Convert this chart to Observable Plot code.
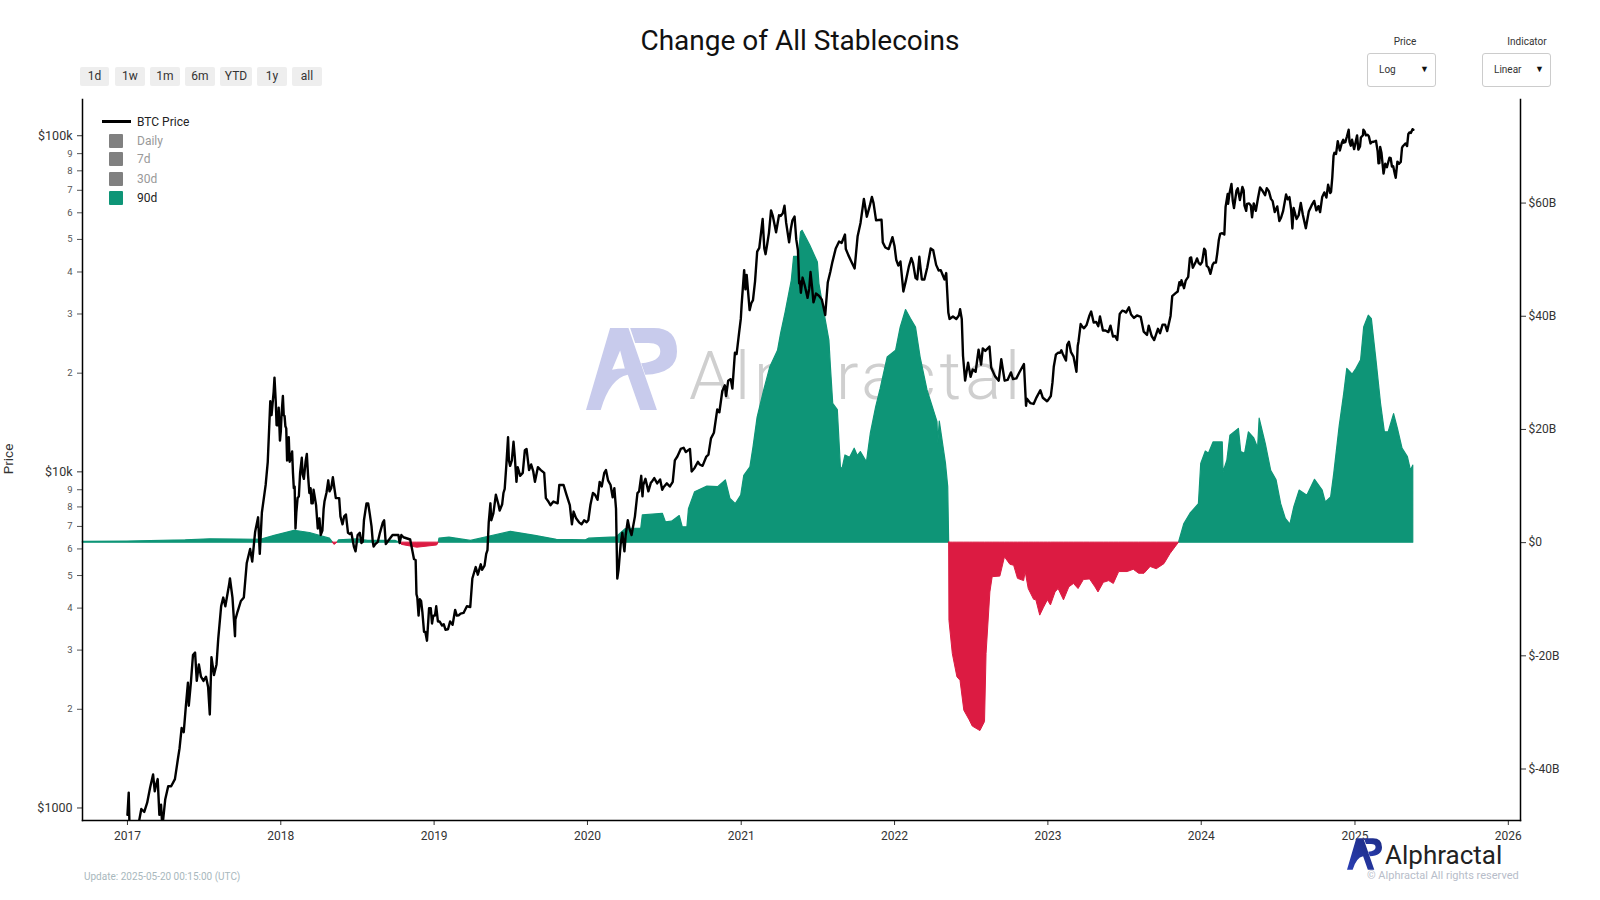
<!DOCTYPE html>
<html>
<head>
<meta charset="utf-8">
<script src="https://cdn.jsdelivr.net/npm/d3@7"></script>
<script src="https://cdn.jsdelivr.net/npm/@observablehq/plot@0.6"></script>
<style>
html,body{margin:0;padding:0;background:#fff;width:1600px;height:900px;overflow:hidden;font-family:Roboto,sans-serif}
#page{position:relative;width:1600px;height:900px}
#page>*{position:absolute}
.layer{left:0;top:0}
.layer svg{display:block;background:transparent}
.title{left:0;width:1600px;top:22px;text-align:center;font-size:28px;color:#111;line-height:37px}
.btn{top:67px;height:19px;line-height:19px;background:#eee;border-radius:2px;text-align:center;font-size:12px;color:#333}
.lab{font-size:10px;color:#333;text-align:center;top:36px;line-height:12px}
.sel{top:53px;width:67px;height:32px;border:1px solid #ccc;border-radius:3px;font-size:10px;color:#333;line-height:31px;text-indent:11px}
.sel i{position:absolute;right:6px;top:0;font-style:normal;font-size:9px;text-indent:0;color:#111}
.lg{left:137px;font-size:12px;line-height:14px;color:#999}
.sw{left:109px;width:14px;height:14px;background:#808080;border-radius:1px}
.wm{left:689px;top:338px;font-size:67px;font-weight:300;color:#cfcfcf;line-height:76px;letter-spacing:4px}
</style>
</head>
<body>
<div id="page">
  <svg style="left:586px;top:328px" width="91" height="82" viewBox="18 25 272 245"><path fill="#c8cbec" fill-rule="evenodd" d="M18 270 L90 25 L145 25 L230 270 L180 270 L143 165 Q90 175 62 270 Z M96 150 L120 92 L134 146 Q112 146 96 150 Z"/><path fill="#c8cbec" d="M150 25 L220 25 Q290 25 290 95 Q290 160 195 165 L183 130 Q240 125 240 95 Q240 70 205 70 L165 70 Z"/></svg>
  <div class="wm">Alphractal</div>
  <div class="layer" id="indLayer"></div>
  <div class="layer" id="btcLayer"></div>
  <div class="title">Change of All Stablecoins</div>
  <div class="btn" style="left:80px;width:29px">1d</div>
  <div class="btn" style="left:115px;width:30px">1w</div>
  <div class="btn" style="left:150px;width:30px">1m</div>
  <div class="btn" style="left:185px;width:30px">6m</div>
  <div class="btn" style="left:220px;width:32px">YTD</div>
  <div class="btn" style="left:257px;width:30px">1y</div>
  <div class="btn" style="left:292px;width:30px">all</div>
  <div class="lab" style="left:1375px;width:60px">Price</div>
  <div class="sel" style="left:1367px">Log<i>▼</i></div>
  <div class="lab" style="left:1497px;width:60px">Indicator</div>
  <div class="sel" style="left:1482px">Linear<i>▼</i></div>
  <div style="left:102px;top:120px;width:29px;height:2.5px;background:#000"></div>
  <div class="lg" style="top:115px;color:#222">BTC Price</div>
  <div class="sw" style="top:134px"></div><div class="lg" style="top:134px">Daily</div>
  <div class="sw" style="top:152px"></div><div class="lg" style="top:152px">7d</div>
  <div class="sw" style="top:172px"></div><div class="lg" style="top:172px">30d</div>
  <div class="sw" style="top:191px;background:#0e9577"></div><div class="lg" style="top:191px;color:#222">90d</div>
  <div style="left:-12px;top:451px;width:40px;text-align:center;font-size:13.5px;color:#333;transform:rotate(-90deg)">Price</div>
  <div style="left:84px;top:871px;font-size:10px;color:#a8b8bd">Update: 2025-05-20 00:15:00 (UTC)</div>
  <svg style="left:1347px;top:838px" width="35" height="32" viewBox="18 25 272 245"><defs><linearGradient id="lg1" x1="0" y1="1" x2="1" y2="0"><stop offset="0" stop-color="#2b3fb5"/><stop offset="1" stop-color="#1b2a80"/></linearGradient></defs><path fill="url(#lg1)" d="M18 270 L90 25 L145 25 L230 270 L180 270 L143 165 Q90 175 62 270 Z"/><path fill="url(#lg1)" d="M150 25 L220 25 Q290 25 290 95 Q290 160 195 165 L183 130 Q240 125 240 95 Q240 70 205 70 L165 70 Z"/></svg>
  <div style="left:1385px;top:840px;font-size:26px;line-height:30px;color:#222">Alphractal</div>
  <div style="left:1367px;top:869px;font-size:11px;line-height:14px;color:#b7bdc9">© Alphractal All rights reserved</div>
</div>
<script>
// BTC price (USD) by date
const btc2017 = [["01-01",970],["01-04",1130],["01-06",890],["01-12",810],["01-20",890],["01-28",920],["02-03",1010],["02-10",990],["02-17",1055],["02-24",1170],["03-03",1280],["03-07",1140],["03-10",1190],["03-14",1240],["03-18",970],["03-22",1040],["03-25",890],["04-01",1080],["04-08",1180],["04-15",1180],["04-24",1240],["05-01",1420],["05-05",1530],["05-10",1760],["05-15",1710],["05-20",2040],["05-25",2400],["05-27",2050],["06-01",2400],["06-06",2900],["06-11",2950],["06-15",2430],["06-20",2720],["06-25",2500],["07-01",2430],["07-07",2500],["07-12",2330],["07-16",1930],["07-20",2860],["07-26",2530],["08-01",2720],["08-05",3230],["08-12",4050],["08-17",4300],["08-22",4050],["08-31",4700],["09-02",4900],["09-08",4300],["09-14",3300],["09-15",3700],["09-20",3900],["09-28",4200],["10-05",4300],["10-12",5450],["10-20",6000],["10-25",5500],["11-01",6750],["11-08",7450],["11-12",5800],["11-17",7700],["11-26",9300],["12-01",10900],["12-07",16500],["12-10",15000],["12-15",17600],["12-17",19400],["12-20",16500],["12-22",14000],["12-25",14000],["12-27",15800],["12-30",12600]];
const btc2018 = [["01-01",13400],["01-03",15200],["01-06",17100],["01-08",15000],["01-10",14900],["01-12",13900],["01-14",13700],["01-16",11000],["01-18",11200],["01-20",12900],["01-22",10900],["01-25",11200],["01-28",11700],["01-30",10100],["02-01",9100],["02-03",9200],["02-05",6900],["02-07",7700],["02-10",8500],["02-13",8600],["02-16",10100],["02-20",11200],["02-22",10000],["02-25",9700],["03-01",10900],["03-04",11500],["03-07",9900],["03-10",8800],["03-13",9100],["03-15",8200],["03-18",8200],["03-20",9000],["03-22",8700],["03-26",8100],["03-30",6900],["04-03",7400],["04-06",6600],["04-10",6800],["04-13",7900],["04-15",8300],["04-20",8850],["04-24",9600],["04-27",8900],["05-01",9100],["05-05",9800],["05-08",9200],["05-12",8500],["05-15",8500],["05-20",8500],["05-23",7500],["05-28",7100],["06-01",7500],["06-05",7600],["06-10",6700],["06-14",6650],["06-18",6700],["06-24",6100],["06-28",5900],["07-03",6600],["07-08",6700],["07-12",6250],["07-15",6300],["07-18",7300],["07-24",8200],["07-28",8200],["08-01",7600],["08-05",7000],["08-08",6300],["08-10",6100],["08-14",6200],["08-20",6300],["08-25",6700],["09-01",7200],["09-04",7300],["09-08",6200],["09-12",6300],["09-20",6500],["09-24",6600],["10-01",6600],["10-08",6600],["10-11",6250],["10-15",6600],["10-20",6500],["11-05",6400],["11-14",5600],["11-18",5560],["11-20",4400],["11-22",4300],["11-25",3800],["11-28",4250],["12-01",4200],["12-04",3900],["12-08",3400],["12-11",3400],["12-15",3200],["12-18",3650],["12-20",4000],["12-24",4000],["12-27",3600],["12-30",3800]];
const btc2019 = [["01-03",3800],["01-06",4050],["01-10",3650],["01-14",3650],["01-20",3550],["01-24",3580],["01-28",3450],["02-03",3460],["02-08",3650],["02-14",3570],["02-20",3950],["02-24",3800],["03-01",3810],["03-05",3850],["03-12",3870],["03-20",4050],["03-28",4030],["04-02",4900],["04-10",5300],["04-15",5030],["04-22",5400],["04-25",5200],["05-01",5350],["05-05",5800],["05-08",5950],["05-11",7200],["05-15",8200],["05-17",7300],["05-22",7650],["05-28",8700],["06-03",8150],["06-06",7800],["06-12",8150],["06-15",8800],["06-18",9050],["06-22",10700],["06-26",12900],["06-28",11000],["07-01",10600],["07-05",11000],["07-09",12500],["07-12",11300],["07-16",9500],["07-19",10500],["07-25",9900],["07-31",10100],["08-05",11800],["08-09",11900],["08-15",10300],["08-20",10700],["08-25",10200],["08-29",9500],["09-05",10500],["09-12",10300],["09-20",10100],["09-24",8500],["09-30",8300],["10-05",8100],["10-12",8300],["10-22",8200],["10-26",9300],["11-05",9300],["11-12",8700],["11-20",8100],["11-25",7100],["11-29",7750],["12-05",7400],["12-12",7200],["12-18",7100],["12-24",7300],["12-30",7200]];
const btc2020 = [["01-03",7300],["01-08",8100],["01-14",8800],["01-19",8700],["01-25",8400],["01-30",9500],["02-04",9200],["02-10",10100],["02-14",10300],["02-19",9600],["02-25",9300],["03-01",8550],["03-05",9100],["03-09",7900],["03-12",4900],["03-15",5200],["03-20",6200],["03-24",6700],["03-29",5900],["04-01",6600],["04-06",7300],["04-10",6900],["04-15",6600],["04-23",7500],["04-29",8800],["05-03",8900],["05-08",9900],["05-11",8600],["05-13",9300],["05-18",9700],["05-25",8900],["05-31",9450],["06-02",9500],["06-08",9750],["06-15",9400],["06-22",9650],["06-27",9000],["06-30",9150],["07-08",9400],["07-15",9200],["07-22",9500],["07-27",11000],["08-02",11300],["08-10",11900],["08-17",12000],["08-22",11650],["09-01",11900],["09-05",10200],["09-12",10450],["09-20",10900],["09-24",10700],["10-01",10600],["10-10",11300],["10-15",11450],["10-21",12800],["10-28",13300],["11-05",15600],["11-10",15300],["11-17",17700],["11-23",18400],["11-26",17100],["12-01",19000],["12-07",19200],["12-11",18000],["12-17",23000],["12-21",22800],["12-27",26400],["12-31",29000]];
const btc2021 = [["01-02",32000],["01-08",40500],["01-11",35500],["01-14",39200],["01-21",30800],["01-25",32300],["01-29",33000],["02-03",37600],["02-08",46000],["02-13",47200],["02-21",57500],["02-25",47000],["02-28",45200],["03-04",48500],["03-08",52300],["03-13",61000],["03-17",58900],["03-25",52500],["04-01",59000],["04-05",58700],["04-10",59800],["04-14",63000],["04-18",56000],["04-25",49000],["04-29",53600],["05-03",57000],["05-08",58500],["05-12",50000],["05-16",46400],["05-19",37000],["05-21",37500],["05-23",34700],["05-27",38500],["06-01",36600],["06-08",33500],["06-12",35800],["06-15",40000],["06-19",35700],["06-22",32500],["06-28",34500],["07-05",34000],["07-12",33100],["07-20",29800],["07-26",37200],["08-01",40000],["08-06",42800],["08-14",47000],["08-22",49300],["08-28",48800],["09-05",51700],["09-07",46800],["09-13",44900],["09-20",43000],["09-28",41000],["10-05",51000],["10-12",56000],["10-20",66000],["10-27",58400],["11-03",62900],["11-08",66900],["11-12",64100],["11-18",57000],["11-24",57100],["12-01",57200],["12-04",49000],["12-10",47300],["12-18",46800],["12-27",50800]];
const btc2022 = [["01-01",47700],["01-05",43500],["01-10",41800],["01-15",43000],["01-22",35000],["01-28",37700],["02-04",41500],["02-10",44000],["02-14",42500],["02-20",38400],["02-24",38000],["03-01",44400],["03-03",42000],["03-07",38000],["03-13",38000],["03-20",41300],["03-28",47000],["04-03",46400],["04-10",42000],["04-16",40400],["04-21",40500],["04-30",38000],["05-04",39700],["05-09",30300],["05-12",29000],["05-20",29500],["05-28",29000],["06-03",29700],["06-06",31000],["06-10",29000],["06-13",22500],["06-18",19000],["06-25",21500],["07-01",19500],["07-06",20500],["07-13",20200],["07-20",23500],["07-26",21200],["07-30",23700],["08-05",23300],["08-15",24000],["08-19",20800],["08-28",19600],["09-06",19000],["09-12",22000],["09-20",19000],["09-27",19100],["10-05",20100],["10-10",19200],["10-18",19300],["10-25",20100],["11-05",21300],["11-10",16000],["11-12",16800],["11-20",16300],["11-28",16200],["12-05",16950],["12-14",17800],["12-20",16900],["12-30",16500]];
const btc2023 = [["01-01",16600],["01-08",17100],["01-12",18800],["01-15",20900],["01-20",22700],["01-25",23000],["01-30",23000],["02-02",23400],["02-05",22900],["02-13",21800],["02-16",24300],["02-20",24800],["02-25",23100],["03-03",22400],["03-10",20200],["03-13",24100],["03-15",24900],["03-20",28000],["03-24",27500],["03-28",27200],["04-03",27800],["04-10",29700],["04-14",30500],["04-20",28300],["04-26",28400],["05-01",27600],["05-05",29500],["05-12",26800],["05-18",26800],["05-25",26500],["05-30",27700],["06-05",25700],["06-10",25800],["06-15",25100],["06-21",30000],["06-27",30700],["07-01",30600],["07-06",30300],["07-13",31400],["07-18",29900],["07-25",29200],["08-01",29700],["08-10",29400],["08-17",26600],["08-25",26000],["08-29",27700],["09-05",25800],["09-11",25100],["09-20",27100],["09-25",26300],["10-01",27900],["10-07",27900],["10-12",26700],["10-20",29600],["10-24",33900],["11-01",34600],["11-06",35000],["11-10",37300],["11-13",36500],["11-15",37800],["11-21",35800],["11-25",37700],["12-01",38700],["12-05",44000],["12-08",44200],["12-12",41200],["12-18",42600],["12-22",43900],["12-26",42500],["12-30",42100]];
const btc2024 = [["01-03",42800],["01-08",46900],["01-11",46300],["01-14",41700],["01-18",41300],["01-23",39500],["01-28",42000],["01-31",42600],["02-05",42700],["02-08",45300],["02-12",49900],["02-15",51900],["02-20",52200],["02-25",51700],["02-28",62500],["03-04",68300],["03-05",63800],["03-08",68300],["03-13",73100],["03-16",65300],["03-19",62000],["03-25",69900],["03-28",71000],["04-02",65500],["04-08",71600],["04-11",70000],["04-13",63000],["04-17",60800],["04-19",63800],["04-24",64000],["04-28",63100],["05-01",58200],["05-05",64000],["05-10",60800],["05-15",66200],["05-20",71400],["05-27",69400],["06-01",67700],["06-05",71000],["06-10",69600],["06-15",66000],["06-19",65000],["06-24",60300],["06-30",62700],["07-05",56700],["07-09",58000],["07-14",60800],["07-21",68000],["07-25",65800],["07-29",66800],["08-02",61400],["08-05",53900],["08-08",62000],["08-12",59300],["08-15",57500],["08-20",59000],["08-25",64200],["08-30",59100],["09-06",54000],["09-10",57600],["09-13",60500],["09-20",63200],["09-26",65100],["10-01",61000],["10-06",62800],["10-10",60300],["10-15",66900],["10-20",69000],["10-25",66600],["10-29",72700],["11-03",68700],["11-05",69300],["11-08",76500],["11-11",88700],["11-13",90500],["11-17",89800],["11-21",98000],["11-26",91900],["12-01",97200],["12-04",99000],["12-05",97000],["12-09",97400],["12-13",101400],["12-17",106000],["12-19",97500],["12-22",95000],["12-25",99000],["12-30",92800]];
const btc2025 = [["01-03",98000],["01-06",102000],["01-09",92500],["01-13",94500],["01-15",100500],["01-20",102100],["01-21",106100],["01-24",104800],["01-27",102000],["01-31",102400],["02-03",101400],["02-07",96500],["02-10",97500],["02-15",97600],["02-20",98300],["02-24",91400],["02-26",84200],["02-28",84300],["03-02",94200],["03-05",90600],["03-10",78500],["03-14",84000],["03-18",82000],["03-24",87500],["03-27",87200],["03-30",82400],["04-02",82500],["04-06",78200],["04-08",76300],["04-12",85200],["04-16",84000],["04-20",85000],["04-23",93700],["04-25",94700],["05-01",96500],["05-05",94800],["05-08",103000],["05-11",104100],["05-14",103700],["05-18",106400],["05-20",106000]];

// 90d change of all stablecoins, $B, by fractional year
const change2016to2019 = [[2016.71,.15],[2017,.2],[2017.38,.4],[2017.54,.6],[2017.73,.55],[2017.87,.5],[2017.96,1.2],[2018.09,2.1],[2018.19,1.7],[2018.32,.7],[2018.34,0],[2018.35,-.4],[2018.37,0],[2018.38,.4],[2018.5,.6],[2018.57,.3],[2018.75,.3],[2018.775,0],[2018.79,-.4],[2018.89,-.9],[2019.02,-.5],[2019.03,0],[2019.035,.7],[2019.1,.9],[2019.24,.3],[2019.335,.9],[2019.5,1.9],[2019.66,1.2],[2019.8,.5],[2019.99,.4]];
const change2020 = [[2020.01,.7],[2020.19,.94],[2020.25,2.4],[2020.35,2.5],[2020.36,4.8],[2020.49,5.1],[2020.51,3.6],[2020.55,3.7],[2020.6,4.7],[2020.62,2.7],[2020.65,2.7],[2020.66,5.9],[2020.7,8.9],[2020.78,9.9],[2020.85,9.8],[2020.9,11],[2020.93,7.7],[2020.965,6.8]];
const change2021 = [[2021,8.3],[2021.02,11.8],[2021.06,13.3],[2021.08,16.8],[2021.107,22.1],[2021.15,26.9],[2021.19,31],[2021.24,33.9],[2021.26,36.9],[2021.29,40.7],[2021.33,46.3],[2021.345,50.5],[2021.375,50.5],[2021.39,54.8],[2021.4,55.1],[2021.45,52.5],[2021.5,49.5],[2021.51,45.7],[2021.54,41],[2021.575,35.7],[2021.585,31],[2021.6,24.5],[2021.63,23.4],[2021.65,13.3],[2021.66,12.9],[2021.68,15.4],[2021.71,15],[2021.74,16.6],[2021.76,15.3],[2021.78,16],[2021.82,14.2],[2021.845,19.2],[2021.88,23.9],[2021.91,27.2],[2021.955,32.7]];
const change2022 = [[2022.01,33.9],[2022.04,38],[2022.075,41.1],[2022.107,39.5],[2022.14,38],[2022.17,32.7],[2022.215,26.9],[2022.25,23.9],[2022.28,21.3],[2022.285,17.5],[2022.295,21.4],[2022.335,14],[2022.35,9.8],[2022.356,0],[2022.358,-13.8],[2022.38,-19.7],[2022.41,-23.8],[2022.43,-24.4],[2022.455,-29.7],[2022.49,-31.4],[2022.51,-32.5],[2022.56,-33.3],[2022.59,-31.7],[2022.6,-19.7],[2022.625,-8.8],[2022.64,-6.1],[2022.69,-6],[2022.72,-2.6],[2022.755,-3.9],[2022.78,-4.1],[2022.805,-6.4],[2022.845,-6.8],[2022.855,-5.2],[2022.875,-8.2],[2022.91,-10.1],[2022.925,-10.2],[2022.95,-12.9],[2022.975,-11.5]];
const change2023 = [[2023,-10.2],[2023.02,-11.1],[2023.05,-8.8],[2023.07,-8.2],[2023.105,-10.2],[2023.14,-7.9],[2023.17,-7.3],[2023.2,-8.2],[2023.235,-6.6],[2023.275,-6.5],[2023.31,-7.9],[2023.33,-8.8],[2023.365,-7.1],[2023.4,-6.8],[2023.43,-7.3],[2023.465,-5.2],[2023.52,-5.2],[2023.56,-4.8],[2023.595,-5.5],[2023.63,-5.5],[2023.67,-4.3],[2023.71,-4.7],[2023.76,-3.8],[2023.8,-2],[2023.855,0],[2023.89,3.3],[2023.93,5.1],[2023.985,6.8]];
const change2024 = [[2024,13.9],[2024.03,16.1],[2024.05,15.7],[2024.08,17.7],[2024.14,17.7],[2024.145,12.4],[2024.17,14.5],[2024.19,18.9],[2024.245,20.1],[2024.26,16],[2024.285,15.7],[2024.31,19.5],[2024.345,18.4],[2024.37,16.7],[2024.38,21.9],[2024.42,17.4],[2024.455,12.7],[2024.49,11],[2024.52,6.8],[2024.55,4.2],[2024.58,3.2],[2024.605,6.2],[2024.64,9.2],[2024.69,8.3],[2024.74,11.1],[2024.79,9.2],[2024.81,7.1],[2024.845,8],[2024.865,12.1],[2024.9,20.4],[2024.93,26.3],[2024.95,30.7],[2024.985,29.7]];
const change2025 = [[2025.01,30.7],[2025.04,32.2],[2025.06,38],[2025.09,40.1],[2025.11,39.5],[2025.14,32.2],[2025.17,24.5],[2025.195,19.5],[2025.22,19.5],[2025.255,22.7],[2025.28,20.1],[2025.31,16.6],[2025.345,15.1],[2025.365,12.7],[2025.38,13.6]];

const yearTicks = [2017,2018,2019,2020,2021,2022,2023,2024,2025,2026];
const priceMajor = [1000,10000,100000];
const priceMinor = [2000,3000,4000,5000,6000,7000,8000,9000,20000,30000,40000,50000,60000,70000,80000,90000];
const changeTicks = [-40,-20,0,20,40,60];

const UP = "#0e9577", DOWN = "#dc1b42";
const fromYear = y => { const f = Math.floor(y); const a = Date.UTC(f,0,1), b = Date.UTC(f+1,0,1); return new Date(a + (y-f)*(b-a)); };
const price = [[2017,btc2017],[2018,btc2018],[2019,btc2019],[2020,btc2020],[2021,btc2021],[2022,btc2022],[2023,btc2023],[2024,btc2024],[2025,btc2025]]
  .flatMap(([y,rows]) => rows.map(([d,p]) => ({date:new Date(`${y}-${d}T00:00:00Z`), price:p})));
const change = [change2016to2019,change2020,change2021,change2022,change2023,change2024,change2025].flat().map(([t,v]) => ({date:fromYear(t), value:v}));
// Split the series into runs of one sign, so each run is its own area
function runs(sign){
  const out=[]; let run=0, inside=false;
  change.forEach(d=>{
    const keep = sign>0 ? d.value>=0 : d.value<=0;
    if(keep && (d.value!==0 || true)){ out.push({...d,run}); inside=true; }
    else if(inside){ run++; inside=false; }
  });
  const n = d3.rollup(out,v=>v.filter(d=>d.value!==0).length,d=>d.run);
  return out.filter(d=>n.get(d.run)>0);
}
const lastDate = new Date("2026-01-30T00:00:00Z"), firstDate = new Date("2016-09-16T00:00:00Z");
const common = {width:1600,height:900,marginLeft:82,marginRight:80,marginTop:99,marginBottom:80,
  style:{background:"transparent",fontFamily:"Roboto,sans-serif",overflow:"visible"}};

const indPlot = Plot.plot({...common,
  x:{type:"utc",domain:[firstDate,lastDate]},
  y:{type:"linear",domain:[-49.1,78.3]},
  marks:[
    Plot.areaY(runs(1),{x:"date",y1:0,y2:"value",z:"run",fill:UP,stroke:UP,strokeWidth:1.2}),
    Plot.areaY(runs(-1),{x:"date",y1:0,y2:"value",z:"run",fill:DOWN,stroke:DOWN,strokeWidth:1}),
    Plot.axisX({ticks:yearTicks.map(y=>new Date(Date.UTC(y,0,1))),tickFormat:d=>String(d.getUTCFullYear()),label:null,tickSize:5,tickPadding:6,fontSize:12,color:"#333"}),
    Plot.axisY({anchor:"right",ticks:changeTicks,tickFormat:d=>d===0?"$0":`$${d}B`,label:null,tickSize:5,tickPadding:3,fontSize:12,color:"#333"}),
    Plot.frame({anchor:"right",stroke:"#000",strokeWidth:1.5}),
    Plot.frame({anchor:"bottom",stroke:"#000",strokeWidth:1.5})
  ]});
document.getElementById("indLayer").append(indPlot);

const btcPlot = Plot.plot({...common,
  x:{type:"utc",domain:[firstDate,lastDate],axis:null},
  y:{type:"log",domain:[933.6,130400]},
  marks:[
    Plot.line(price,{x:"date",y:"price",stroke:"#000",strokeWidth:2.4,clip:true}),
    Plot.axisY(priceMajor,{anchor:"left",tickFormat:d=>d===100000?"$100k":d===10000?"$10k":"$1000",label:null,tickSize:5,tickPadding:5,fontSize:12.5,color:"#333",dy:-2.5}),
    Plot.axisY(priceMinor,{anchor:"left",tickFormat:d=>String(d).charAt(0),label:null,tickSize:5,tickPadding:5,fontSize:9.5,color:"#555"}),
    Plot.frame({anchor:"left",stroke:"#000",strokeWidth:1.5})
  ]});
document.getElementById("btcLayer").append(btcPlot);
</script>
</body>
</html>
